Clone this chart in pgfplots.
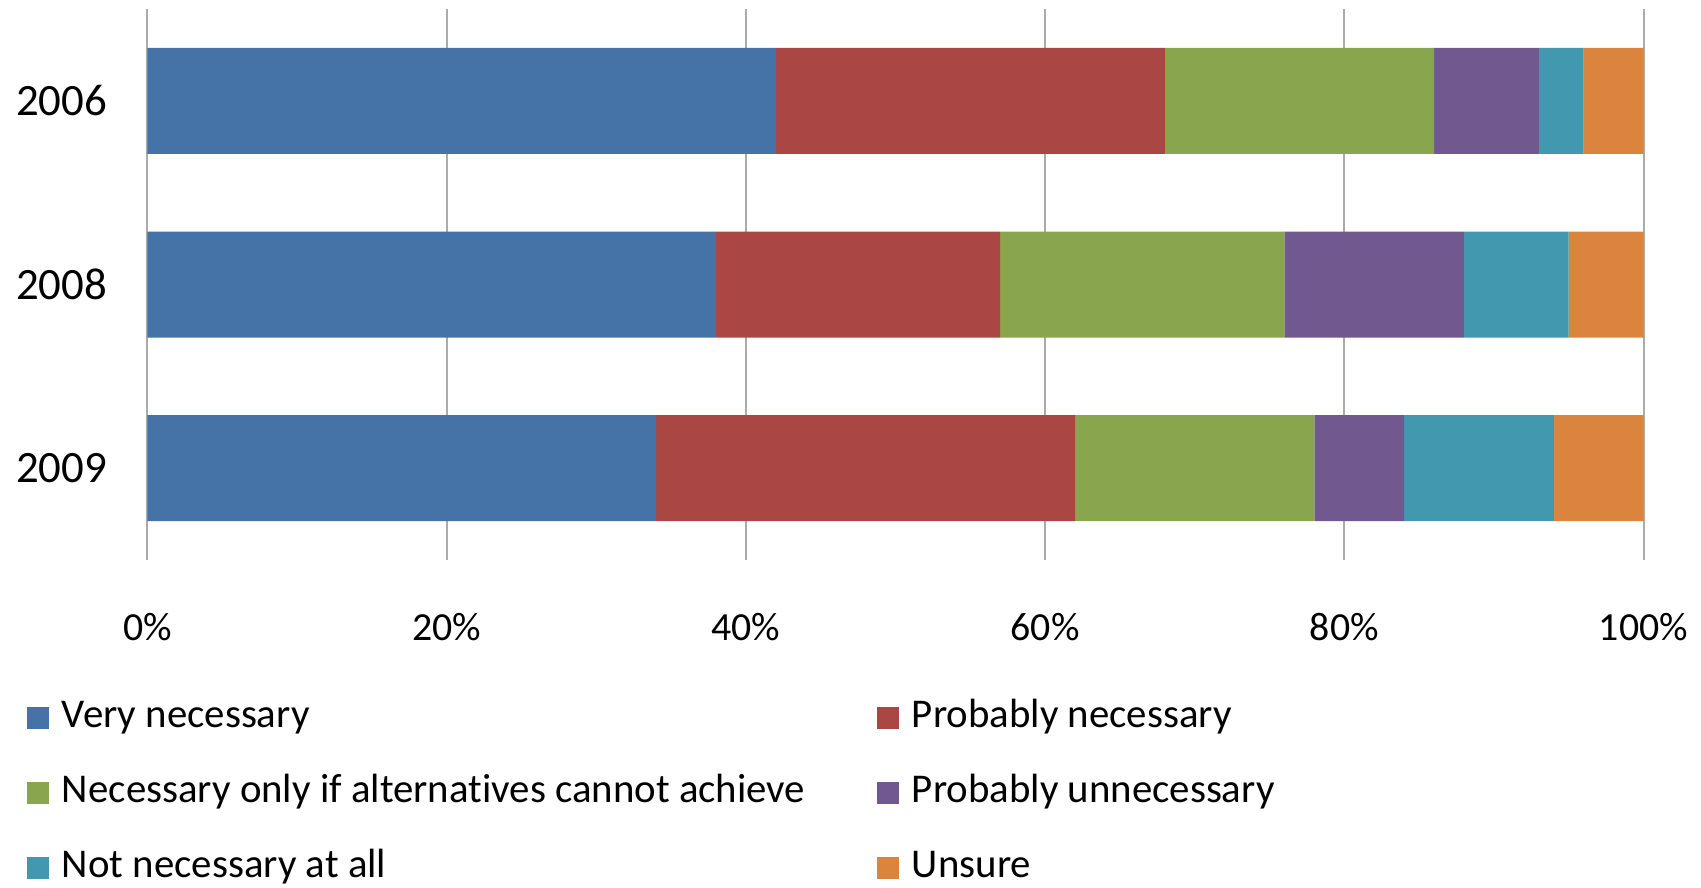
\documentclass[border=0pt]{standalone}
\usepackage{pgfplots}
\pgfplotsset{compat=1.18}
\usepackage{fontspec}
\setmainfont{Carlito}[Ligatures=NoCommon]
\definecolor{cblue}{HTML}{4572A7}
\definecolor{cred}{HTML}{AA4643}
\definecolor{cgreen}{HTML}{89A54E}
\definecolor{cpurple}{HTML}{71588F}
\definecolor{cteal}{HTML}{4198AF}
\definecolor{corange}{HTML}{DB843D}
\definecolor{gridgray}{HTML}{ABABAB}
\pgfplotsset{
  sq/.style={draw=none, fill=#1,
    legend image code/.code={\fill[#1] (0bp,-5.5bp) rectangle (11bp,5.5bp); \path (17.5bp,0bp);}},
}
\begin{document}
\begin{tikzpicture}
\path[use as bounding box] (-73.75bp,-164bp) rectangle (776.75bp,280bp);
\begin{axis}[
  at={(0,0)}, anchor=south west,
  scale only axis, width=748bp, height=275.5bp,
  xbar stacked, bar width=53bp,
  xmin=0, xmax=100, ymin=-0.5, ymax=2.5, y dir=reverse,
  ytick={0,1,2}, yticklabels={2006,2008,2009},
  xtick={0,20,40,60,80,100},
  xticklabels={0\%,20\%,40\%,60\%,80\%,100\%},
  xmajorgrids, major grid style={draw=gridgray, line width=1bp},
  axis line style={draw=none},
  major tick length=0pt,
  xticklabel style={font=\fontsize{20}{24}\selectfont, anchor=center, yshift=-33.5bp},
  yticklabel style={font=\fontsize{22.5}{26}\selectfont, anchor=east, inner sep=0pt, xshift=-20bp},
  legend columns=2,
  legend cell align=left,
  legend style={draw=none, fill=none, at={(0,0)}, anchor=north west,
    xshift=-60.25bp, yshift=-69.5bp, inner sep=0pt, outer sep=0pt,
    column sep=0pt, row sep=19bp,
    nodes={inner sep=0pt, font=\fontsize{20.5}{24}\selectfont, text height=14bp, text depth=4.5bp}},
]
\addplot[sq=cblue] coordinates {(42,0) (38,1) (34,2)};
\addlegendentry{\makebox[407.5bp][l]{Very necessary}}
\addplot[sq=cred] coordinates {(26,0) (19,1) (28,2)};
\addlegendentry{Probably necessary}
\addplot[sq=cgreen] coordinates {(18,0) (19,1) (16,2)};
\addlegendentry{\makebox[407.5bp][l]{Necessary only if alternatives cannot achieve}}
\addplot[sq=cpurple] coordinates {(7,0) (12,1) (6,2)};
\addlegendentry{Probably unnecessary}
\addplot[sq=cteal] coordinates {(3,0) (7,1) (10,2)};
\addlegendentry{\makebox[407.5bp][l]{Not necessary at all}}
\addplot[sq=corange] coordinates {(4,0) (5,1) (6,2)};
\addlegendentry{Unsure}
\end{axis}
\end{tikzpicture}
\end{document}
